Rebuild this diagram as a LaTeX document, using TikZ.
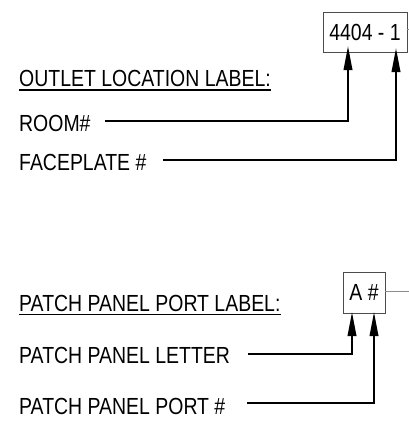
\documentclass[tikz,border=0pt]{standalone}
\usepackage{fontspec}
\setmainfont[FakeStretch=0.835]{Liberation Sans}
\usetikzlibrary{arrows.meta}
\begin{document}
\begin{tikzpicture}[x=1pt,y=-1pt,
  lbl/.style={inner sep=0pt,anchor=base west,font=\fontsize{23.3}{26}\selectfont},
  tagbox/.style={draw=black!70,line width=0.9pt,inner sep=0pt,font=\fontsize{23.3}{26}\selectfont},
  conn/.style={line width=2pt,-{Triangle[length=24pt,width=8.5pt]}},
  tick/.style={draw=black!45,line width=0.9pt},
  uline/.style={line width=1.4pt}]
\useasboundingbox (0,0) rectangle (409,423);
% top label
\node[tagbox,minimum width=84pt,minimum height=40pt] (box1) at (365,32) {4404 - 1};
\coordinate (t1) at (409,29);
\draw[tick] (box1.east |- t1) -- (t1);
\node[lbl] (title1) at (19,86) {OUTLET LOCATION LABEL:};
\draw[uline] ([yshift=-4pt]title1.base west) -- ([yshift=-4pt]title1.base east);
\node[lbl] (room) at (19,131.7) {ROOM\#};
\node[lbl] (face) at (19,170) {FACEPLATE \#};
\coordinate (w1) at (105,121);
\coordinate (h1) at (348,46);
\coordinate (w2) at (163,160);
\coordinate (h2) at (396,48);
\draw[conn] (w1) -| (h1);
\draw[conn] (w2) -| (h2);
% bottom label
\node[tagbox,minimum width=42pt,minimum height=41pt] (box2) at (364,292.5) {A \#};
\coordinate (t2) at (409,291);
\draw[tick] (box2.east |- t2) -- (t2);
\node[lbl] (title2) at (19,311) {PATCH PANEL PORT LABEL:};
\draw[uline] ([yshift=-3.5pt]title2.base west) -- ([yshift=-3.5pt]title2.base east);
\node[lbl] (letter) at (19,363.3) {PATCH PANEL LETTER};
\node[lbl] (port) at (19,414) {PATCH PANEL PORT \#};
\coordinate (w3) at (248,354);
\coordinate (h3) at (352,312);
\coordinate (w4) at (247,403);
\coordinate (h4) at (374,312);
\draw[conn] (w3) -| (h3);
\draw[conn] (w4) -| (h4);
\end{tikzpicture}
\end{document}
